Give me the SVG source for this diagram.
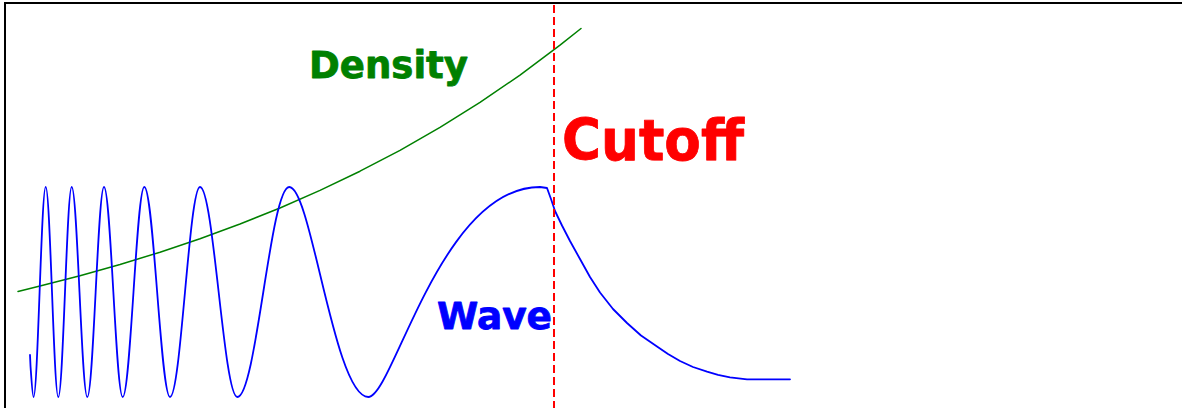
<svg xmlns="http://www.w3.org/2000/svg" width="1182" height="408" viewBox="0 0 1182 408">
<style>
.lbl{font-family:"DejaVu Sans","Verdana",sans-serif;font-weight:bold;stroke-width:0.8;stroke-linejoin:round}
.curve{fill:none;stroke-linejoin:round;stroke-linecap:round}
</style>
<rect x="0" y="0" width="1182" height="408" fill="#ffffff"/>
<path id="frame" d="M5,408 V3 H1182" fill="none" stroke="#000000" stroke-width="2"/>
<g id="density">
<polyline class="curve" stroke="#008000" stroke-width="1.5" points="18,291.4 40,286.1 80,275.8 120,264.5 160,252.2 200,238.7 240,224 280,208 320,190.4 360,171.2 400,150.3 440,127.4 480,102.4 520,75.1 560,45.2 581,28.5"/>
<text class="lbl" x="309" y="77.5" font-size="37" fill="#008000" stroke="#008000" textLength="159" lengthAdjust="spacingAndGlyphs">Density</text>
</g>
<g id="wave">
<path class="curve" stroke="#0000ff" stroke-width="1.8" d="M30,355 L30.5,366 C31.5,380 32.5,397 33.5,397 C37.9,397 41.3,187 45.7,187 C50.3,187 53.7,397 58.3,397 C63.2,397 66.8,187 71.7,187 C77.4,187 81.6,397 87.3,397 C93.4,397 97.9,187 104,187 C110.8,187 115.9,397 122.7,397 C130.5,397 136.5,187 144.3,187 C153.6,187 160.7,397 170,397 C180.9,397 189.1,187 200,187 C213.6,187 223.7,397 237.3,397 C256.2,397 270.4,187 289.3,187 C311.3,187 334.3,397 368.3,397 C393,397 440,187 540,187 L547,188 L551,199 L555,211 L562,225.5 L570,241 L580,259 L590,277 L600,292.5 L613,309 L627,323 L641,335.5 L657,346.5 L668,354 L680,361 L693,367 L707,371.7 L718,374.8 L730,377.3 L747,379.3 L790,379.3"/>
<text class="lbl" x="437" y="329" font-size="37" fill="#0000ff" stroke="#0000ff" textLength="115" lengthAdjust="spacingAndGlyphs">Wave</text>
</g>
<g id="cutoff">
<line x1="554" y1="5" x2="554" y2="408" stroke="#ff0000" stroke-width="2" stroke-dasharray="8 4"/>
<text class="lbl" x="562" y="160" font-size="57" fill="#ff0000" stroke="#ff0000" textLength="182" lengthAdjust="spacingAndGlyphs">Cutoff</text>
</g>
</svg>
